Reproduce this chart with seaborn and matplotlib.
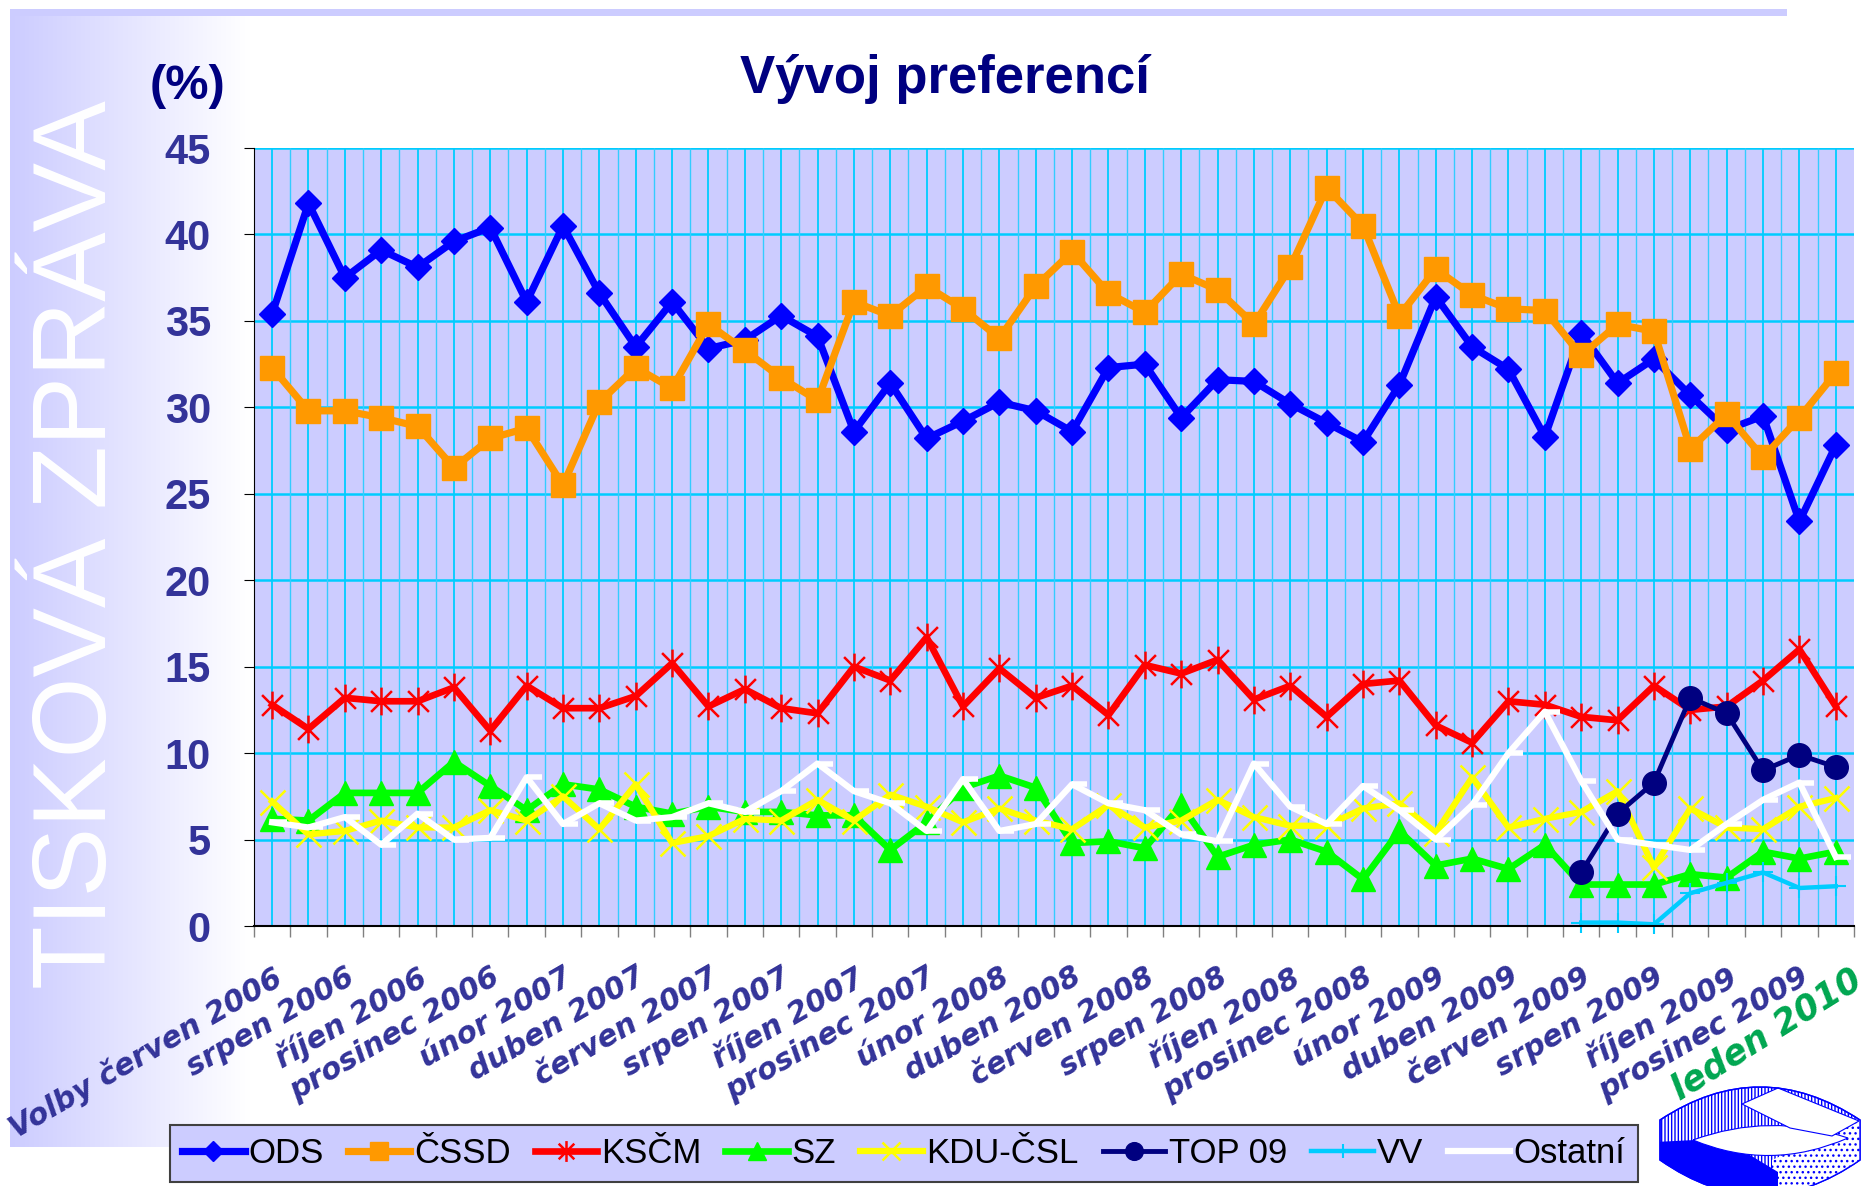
import numpy as np
import pandas as pd
import seaborn as sns
import matplotlib.pyplot as plt
from matplotlib.path import Path
from matplotlib.patches import Rectangle, PathPatch, Polygon

plt.rcParams["font.family"] = ["Liberation Sans", "DejaVu Sans"]
plt.rcParams["hatch.linewidth"] = 1.0

#
# DATA (monthly polls, June 2006 election .. January 2010)
#

tick_labels = ["Volby červen 2006", "srpen 2006", "říjen 2006", "prosinec 2006",
               "únor 2007", "duben 2007", "červen 2007", "srpen 2007", "říjen 2007",
               "prosinec 2007", "únor 2008", "duben 2008", "červen 2008", "srpen 2008",
               "říjen 2008", "prosinec 2008", "únor 2009", "duben 2009", "červen 2009",
               "srpen 2009", "říjen 2009", "prosinec 2009"]
last_label = "leden 2010"

ods = [35.4, 41.8, 37.5, 39.1, 38.1, 39.6, 40.4, 36.1, 40.5, 36.6, 33.5, 36.1,
       33.4, 33.9, 35.3, 34.1, 28.6, 31.4, 28.2, 29.2, 30.3, 29.8, 28.6, 32.3,
       32.5, 29.4, 31.6, 31.5, 30.2, 29.1, 28.0, 31.3, 36.4, 33.5, 32.2, 28.3,
       34.3, 31.4, 32.8, 30.7, 28.7, 29.5, 23.4, 27.8]
cssd = [32.3, 29.8, 29.8, 29.4, 28.9, 26.5, 28.2, 28.8, 25.5, 30.3, 32.3, 31.1,
        34.8, 33.3, 31.7, 30.4, 36.1, 35.3, 37.0, 35.7, 34.0, 37.0, 39.0, 36.6,
        35.5, 37.7, 36.8, 34.8, 38.1, 42.7, 40.5, 35.3, 38.0, 36.5, 35.7, 35.6,
        33.0, 34.8, 34.4, 27.6, 29.6, 27.1, 29.4, 32.0]
kscm = [12.8, 11.4, 13.2, 13.0, 13.0, 13.8, 11.3, 13.9, 12.6, 12.6, 13.3, 15.2,
        12.7, 13.7, 12.6, 12.3, 15.0, 14.2, 16.7, 12.7, 14.9, 13.2, 13.9, 12.2,
        15.1, 14.6, 15.4, 13.1, 13.9, 12.1, 14.0, 14.2, 11.6, 10.6, 13.0, 12.8,
        12.1, 11.9, 13.9, 12.5, 12.7, 14.2, 16.0, 12.7]
sz = [6.2, 6.1, 7.7, 7.7, 7.7, 9.5, 8.1, 6.7, 8.2, 7.9, 6.9, 6.5,
      6.9, 6.6, 6.6, 6.4, 6.4, 4.4, 6.0, 8.0, 8.7, 8.0, 4.8, 4.9,
      4.5, 7.0, 4.0, 4.7, 5.0, 4.3, 2.7, 5.5, 3.5, 3.9, 3.3, 4.7,
      2.4, 2.4, 2.4, 3.0, 2.8, 4.3, 3.9, 4.3]
kdu = [7.2, 5.3, 5.5, 6.1, 5.7, 5.7, 6.7, 6.1, 7.5, 5.6, 8.2, 4.8,
       5.2, 6.2, 6.1, 7.3, 6.1, 7.6, 6.9, 6.0, 6.8, 6.1, 5.6, 7.0,
       5.7, 6.1, 7.3, 6.3, 5.8, 5.8, 6.8, 7.1, 5.4, 8.6, 5.7, 6.2,
       6.6, 7.8, 3.4, 6.8, 5.7, 5.6, 6.9, 7.4]
top09 = [None] * 36 + [3.1, 6.5, 8.3, 13.2, 12.3, 9.0, 9.9, 9.2]
vv = [None] * 36 + [0.2, 0.2, 0.1, 1.9, 2.5, 3.1, 2.2, 2.3]
ostatni = [6.0, 5.7, 6.3, 4.7, 6.5, 5.0, 5.1, 8.6, 5.9, 7.1, 6.1, 6.3,
           7.1, 6.6, 7.8, 9.4, 7.8, 7.1, 5.5, 8.5, 5.5, 5.9, 8.2, 7.1,
           6.7, 5.3, 4.9, 9.4, 6.9, 5.9, 8.1, 6.7, 5.0, 7.0, 10.0, 12.4,
           8.4, 5.0, 4.7, 4.4, 5.9, 7.3, 8.3, 4.0]

parties = ["ODS", "ČSSD", "KSČM", "SZ", "KDU-ČSL", "TOP 09", "VV", "Ostatní"]

wide = pd.DataFrame({"ODS": ods, "ČSSD": cssd, "KSČM": kscm, "SZ": sz,
                     "KDU-ČSL": kdu, "TOP 09": top09, "VV": vv, "Ostatní": ostatni},
                    dtype=float)
wide["i"] = np.arange(len(wide))
df = wide.melt(id_vars="i", var_name="party", value_name="value").dropna()

#
# STYLE
#

star = Path([(0, -1), (0, 1), (-0.75, -0.75), (0.75, 0.75), (-0.75, 0.75), (0.75, -0.75)],
            [Path.MOVETO, Path.LINETO] * 3)
dash = Path([(0, 0), (1, 0)], [Path.MOVETO, Path.LINETO])

styles = {
    "ODS":     dict(color="#0000FF", marker="D", markersize=13, linewidth=5.2),
    "ČSSD":    dict(color="#FF9900", marker="s", markersize=17, linewidth=5.2),
    "KSČM":    dict(color="#FF0000", marker=star, markersize=20, linewidth=4.8, markeredgewidth=1.8),
    "SZ":      dict(color="#00FF00", marker="^", markersize=17, linewidth=4.8),
    "KDU-ČSL": dict(color="#FFFF00", marker="x", markersize=18, linewidth=4.5, markeredgewidth=1.8),
    "TOP 09":  dict(color="#000080", marker="o", markersize=17, linewidth=3.5),
    "VV":      dict(color="#00CCFF", marker="+", markersize=14, linewidth=3.2, markeredgewidth=1.5),
    "Ostatní": dict(color="#FFFFFF", marker=dash, markersize=22, linewidth=4.5, markeredgewidth=4),
}

LABEL_COLOR = "#333399"
GRID_COLOR = "#00CCFF"

#
# FIGURE
#

fig = plt.figure(figsize=(18.74, 11.86), dpi=100)

# background decoration (pixel coordinates)
bg = fig.add_axes([0, 0, 1, 1], zorder=-5)
lav = np.array([0.8, 0.8, 1.0])
grad = lav + (1 - lav) * np.linspace(0, 1, 256)[None, :, None]
bg.imshow(grad, extent=[10, 250, 1147, 12], aspect="auto")
bg.add_patch(Rectangle((10, 9), 1777, 7, color="#CCCCFF", lw=0))
bg.text(80, 545, "TISKOVÁ ZPRÁVA", rotation=90, color="white", fontsize=75,
        ha="center", va="center")

# logo (bottom right)
outer = Path([(1660, 1120), (1760, 1054), (1860, 1120), (1860, 1160),
              (1760, 1230), (1660, 1160), (1660, 1120)],
             [Path.MOVETO, Path.CURVE3, Path.CURVE3, Path.LINETO,
              Path.CURVE3, Path.CURVE3, Path.CLOSEPOLY])
band = PathPatch(outer, facecolor="white", edgecolor="#0000FF", hatch="|||||", lw=1)
bg.add_patch(band)
dots = Polygon([(1772, 1160), (1860, 1120), (1860, 1200), (1772, 1200)],
               facecolor="white", edgecolor="#0000FF", hatch="...", lw=0)
bg.add_patch(dots)
dots.set_clip_path(band)
solid = Polygon([(1655, 1142), (1695, 1140), (1745, 1152), (1778, 1172),
                 (1778, 1200), (1655, 1200)], facecolor="#0000FF", lw=0)
bg.add_patch(solid)
solid.set_clip_path(band)
lens = PathPatch(Path([(1693, 1140), (1770, 1112), (1848, 1138),
                       (1770, 1172), (1693, 1140)],
                      [Path.MOVETO, Path.CURVE3, Path.CURVE3, Path.CURVE3, Path.CURVE3]),
                 facecolor="white", edgecolor="#0000FF", lw=0.8)
bg.add_patch(lens)
cap = Polygon([(1742, 1104), (1778, 1088), (1859, 1121), (1832, 1136), (1790, 1128)],
              facecolor="white", edgecolor="#0000FF", lw=0.8)
bg.add_patch(cap)
bg.add_patch(PathPatch(outer, facecolor="none", edgecolor="#0000FF", lw=1))

bg.set_xlim(0, 1874)
bg.set_ylim(1186, 0)
bg.axis("off")

ax = fig.add_axes([0.1355, 0.2192, 0.8538, 0.6560])
ax.set_facecolor("#CCCCFF")

for p in parties:
    st = styles[p]
    sns.lineplot(data=df[df["party"] == p], x="i", y="value", ax=ax,
                 estimator=None, legend=False, label=p,
                 markeredgecolor=st["color"], markerfacecolor=st["color"],
                 clip_on=(p != "VV"), **st)
    line = ax.lines[-1]
    line.set_linewidth(st["linewidth"])
    line.set_markersize(st["markersize"])
    line.set_markeredgewidth(st.get("markeredgewidth", 1.0))
    line.set_solid_joinstyle("round")

n = len(ods)
ax.set_xlim(-0.5, n - 0.5)
ax.set_ylim(0, 45)
ax.set_yticks(range(0, 46, 5))

# grid: cyan horizontal at every 5, vertical at every half category
ax.yaxis.grid(True, color=GRID_COLOR, lw=1.8)
ax.vlines(np.arange(0, n - 0.4, 1.0), 0, 45, color=GRID_COLOR, lw=1.3, zorder=0.6)
ax.vlines(np.arange(0.5, n - 0.9, 1.0), 0, 45, color="#33CCFF", lw=1.0, zorder=0.6)
ax.set_axisbelow(True)

label_pos = np.arange(0, 2 * len(tick_labels), 2)
ax.set_xticks(label_pos)
ax.set_xticklabels(tick_labels, rotation=30, ha="right", va="top",
                   rotation_mode="anchor", fontsize=21.5, fontweight="bold",
                   fontstyle="italic", color=LABEL_COLOR, family="DejaVu Sans")
ax.set_xticks(np.arange(-0.5, n, 1.0), minor=True)
ax.tick_params(axis="x", which="major", length=0, pad=26)
ax.tick_params(axis="x", which="minor", length=8, width=1, color="#808080")
ax.tick_params(axis="y", length=7, pad=24, labelsize=30, labelcolor=LABEL_COLOR)
for lab in ax.get_yticklabels():
    lab.set_fontweight("bold")

ax.annotate(last_label, xy=(n - 1, 0), xycoords=("data", "axes fraction"),
            xytext=(10, -26), textcoords="offset points", rotation=32,
            ha="right", va="top", rotation_mode="anchor", fontsize=25,
            fontweight="bold", fontstyle="italic", color="#00A650",
            family="DejaVu Sans", annotation_clip=False)

ax.set_xlabel("")
ax.set_ylabel("")
for s in ["top", "right"]:
    ax.spines[s].set_visible(False)
ax.spines["left"].set_color("black")
ax.spines["bottom"].set_color("black")
ax.spines["bottom"].set_linewidth(1.5)

fig.text(0.504, 0.9216, "Vývoj preferencí", ha="center", va="baseline",
         fontsize=38, fontweight="bold", color="#000080")
fig.text(0.1003, 0.9165, "(%)", ha="center", va="baseline",
         fontsize=35, fontweight="bold", color="#000080")

handles, labels = ax.get_legend_handles_labels()
leg = fig.legend(handles, labels, loc="upper left", ncol=8,
                 bbox_to_anchor=(170 / 1874, 1 - 1125 / 1186),
                 borderaxespad=0, fontsize=25, frameon=True, fancybox=False,
                 framealpha=1, facecolor="#CCCCFF", edgecolor="#404040",
                 handlelength=1.8, handletextpad=0.1, columnspacing=0.7,
                 markerscale=0.75, borderpad=0.35)
leg.get_frame().set_linewidth(1.5)

fig.savefig("out.png", dpi=100)
